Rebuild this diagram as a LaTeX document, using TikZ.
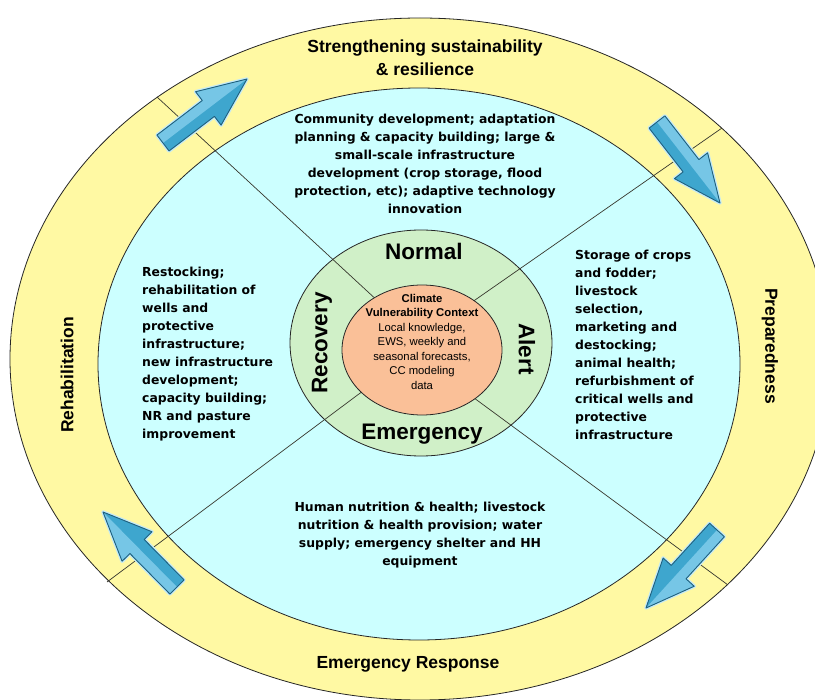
\documentclass[tikz,border=0pt]{standalone}
\usepackage{fontspec}
\setmainfont{Liberation Sans}
\newfontfamily\bodyfont{DejaVu Sans}
\usetikzlibrary{calc}
\definecolor{ringyellow}{RGB}{255,249,163}
\definecolor{ringblue}{RGB}{204,255,255}
\definecolor{ringgreen}{RGB}{208,240,200}
\definecolor{coreorange}{RGB}{250,192,152}
\definecolor{arrowfill}{RGB}{62,166,206}
\definecolor{arrowlight}{RGB}{118,198,230}
\definecolor{arrowline}{RGB}{30,96,126}
\definecolor{arrowglow}{RGB}{196,234,246}
\definecolor{divider}{RGB}{55,55,45}
\newcommand\bluearrow[2]{%
  \coordinate (aT) at (#1);
  \coordinate (aH) at (#2);
  \coordinate (aN) at ($(aT)!0.54!(aH)$);
  \coordinate (aT1) at ($(aT)!10pt!90:(aH)$);
  \coordinate (aT2) at ($(aT)!10pt!-90:(aH)$);
  \coordinate (aN1) at ($(aN)!10pt!90:(aH)$);
  \coordinate (aN2) at ($(aN)!10pt!-90:(aH)$);
  \coordinate (aH1) at ($(aN)!21pt!90:(aH)$);
  \coordinate (aH2) at ($(aN)!21pt!-90:(aH)$);
  \draw[arrowglow, line width=3.5pt, line join=round]
    (aT1) -- (aN1) -- (aH1) -- (aH) -- (aH2) -- (aN2) -- (aT2) -- cycle;
  \fill[arrowfill] (aT1) -- (aN1) -- (aH1) -- (aH) -- (aH2) -- (aN2) -- (aT2) -- cycle;
  \fill[arrowlight] (aT) -- (aT1) -- (aN1) -- (aH1) -- (aH) -- ($(aN)!0.5!(aH)$) -- ($(aT)!0.5!(aN)$) -- cycle;
  \draw[arrowline, line width=0.9pt, line join=round]
    (aT1) -- (aN1) -- (aH1) -- (aH) -- (aH2) -- (aN2) -- (aT2) -- cycle;
}
\tikzset{
  ring/.style={draw=black!85, line width=0.8pt},
  sectorline/.style={draw=divider, line width=0.7pt},
  bandlabel/.style={font=\fontsize{17.5}{23}\selectfont\bfseries, inner sep=0pt},
  phaselabel/.style={font=\fontsize{22.5}{26}\selectfont\bfseries, inner sep=0pt},
  bodytext/.style={font=\bodyfont\bfseries\fontsize{12.4}{18}\selectfont, inner sep=0pt},
  coretext/.style={font=\fontsize{11.3}{14.5}\selectfont, inner sep=0pt, align=center},
}
\begin{document}
\begin{tikzpicture}[x=1pt,y=-1pt]
\useasboundingbox (0,0) rectangle (815,700);
\clip (0,0) rectangle (815,700);
\fill[white] (0,0) rectangle (815,700);
% rings
\path[ring, fill=ringyellow] (420,359) ellipse [x radius=410, y radius=341];
\path[ring, fill=ringblue] (419,364) ellipse [x radius=321, y radius=276];
\path[ring, fill=ringgreen] (421,343) ellipse [x radius=131, y radius=113];
% dividers
\coordinate (ulOut) at (157,97);
\coordinate (ulIn) at (380,303);
\coordinate (urOut) at (722,128);
\coordinate (urIn) at (465,307);
\coordinate (llOut) at (107,582);
\coordinate (llIn) at (375,382);
\coordinate (lrOut) at (728,585);
\coordinate (lrIn) at (470,395);
\draw[sectorline] (ulOut) -- (ulIn);
\draw[sectorline] (urOut) -- (urIn);
\draw[sectorline] (llOut) -- (llIn);
\draw[sectorline] (lrOut) -- (lrIn);
% core
\path[ring, fill=coreorange] (422,350) ellipse [x radius=80, y radius=65];
% arrows
\bluearrow{163,143}{247,79}
\bluearrow{657,122}{720,203}
\bluearrow{177,587}{103,512}
\bluearrow{717,530}{646,608}
% band labels
\node[bandlabel, anchor=base, align=center] (bandTop) at (425,76)
  {Strengthening sustainability\\\& resilience};
\node[bandlabel, anchor=base] (bandBottom) at (408,669) {Emergency Response};
\node[bandlabel, rotate=90] (bandLeft) at (67,375) {Rehabilitation};
\node[bandlabel, rotate=-90] (bandRight) at (770,346) {Preparedness};
% phase labels
\node[phaselabel, anchor=base] (phNormal) at (424,260) {Normal};
\node[phaselabel, anchor=base] (phEmergency) at (422,440) {Emergency};
\node[phaselabel, rotate=90] (phRecovery) at (322,343) {Recovery};
\node[phaselabel, rotate=-90] (phAlert) at (527,349) {Alert};
% activity texts
\node[bodytext, align=center] (txtTop) at (425,164)
  {Community development; adaptation\\
   planning \& capacity building; large \&\\
   small-scale infrastructure\\
   development (crop storage, flood\\
   protection, etc); adaptive technology\\
   innovation};
\node[bodytext, align=left, anchor=west] (txtLeft) at (142,354)
  {Restocking;\\
   rehabilitation of\\
   wells and\\
   protective\\
   infrastructure;\\
   new infrastructure\\
   development;\\
   capacity building;\\
   NR and pasture\\
   improvement};
\node[bodytext, align=left, anchor=west] (txtRight) at (575,345)
  {Storage of crops\\
   and fodder;\\
   livestock\\
   selection,\\
   marketing and\\
   destocking;\\
   animal health;\\
   refurbishment of\\
   critical wells and\\
   protective\\
   infrastructure};
\node[bodytext, align=center] (txtBottom) at (420,535)
  {Human nutrition \& health; livestock\\
   nutrition \& health provision; water\\
   supply; emergency shelter and HH\\
   equipment};
\node[coretext] (coreText) at (422,341.5)
  {\textbf{Climate}\\
   \textbf{Vulnerability Context}\\
   Local knowledge,\\
   EWS, weekly and\\
   seasonal forecasts,\\
   CC modeling\\
   data};
\end{tikzpicture}
\end{document}
